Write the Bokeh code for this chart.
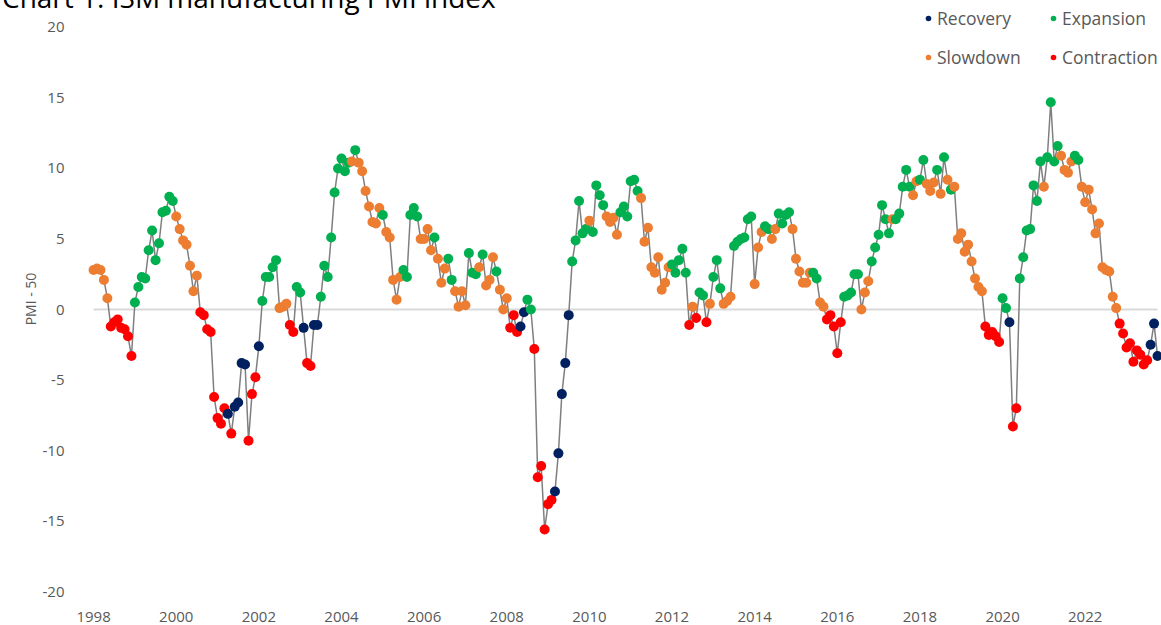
from bokeh.plotting import figure
from bokeh.models import (ColumnDataSource, FixedTicker, Legend, LegendItem,
                          Range1d, Div)
from bokeh.layouts import column
from bokeh.embed import file_html
from bokeh.resources import INLINE

# ---------------- data (monthly, Jan 1998 .. Oct 2023) ----------------
start_year = 1998

pmi_minus_50 = [
    2.8, 2.9, 2.8, 2.1, 0.8, -1.2, -0.9, -0.7, -1.3, -1.4, -1.9, -3.3,      # 1998
    0.5, 1.6, 2.3, 2.2, 4.2, 5.6, 3.5, 4.7, 6.9, 7.0, 8.0, 7.7,             # 1999
    6.6, 5.7, 4.9, 4.6, 3.1, 1.3, 2.4, -0.2, -0.4, -1.4, -1.6, -6.2,        # 2000
    -7.7, -8.1, -7.0, -7.4, -8.8, -6.9, -6.6, -3.8, -3.9, -9.3, -6.0, -4.8, # 2001
    -2.6, 0.6, 2.3, 2.3, 3.0, 3.5, 0.1, 0.2, 0.4, -1.1, -1.6, 1.6,          # 2002
    1.2, -1.3, -3.8, -4.0, -1.1, -1.1, 0.9, 3.1, 2.3, 5.1, 8.3, 10.0,       # 2003
    10.7, 9.8, 10.4, 10.5, 11.3, 10.4, 9.8, 8.4, 7.3, 6.2, 6.1, 7.2,        # 2004
    6.7, 5.5, 5.1, 2.1, 0.7, 2.3, 2.8, 2.3, 6.7, 7.2, 6.6, 5.0,             # 2005
    5.0, 5.7, 4.2, 5.1, 3.6, 1.9, 2.9, 3.6, 2.1, 1.3, 0.2, 1.3,             # 2006
    0.3, 4.0, 2.6, 2.5, 3.0, 3.9, 1.7, 2.1, 3.7, 2.7, 1.4, 0.0,             # 2007
    0.8, -1.3, -0.4, -1.6, -1.2, -0.2, 0.7, 0.0, -2.8, -11.9, -11.1, -15.6, # 2008
    -13.8, -13.5, -12.9, -10.2, -6.0, -3.8, -0.4, 3.4, 4.9, 7.7, 5.4, 5.7,  # 2009
    6.3, 5.5, 8.8, 8.1, 7.4, 6.6, 6.2, 6.5, 5.3, 6.9, 7.3, 6.6,             # 2010
    9.1, 9.2, 8.4, 7.9, 4.8, 5.8, 3.0, 2.6, 3.7, 1.4, 1.9, 3.0,             # 2011
    3.2, 2.6, 3.5, 4.3, 2.6, -1.1, 0.2, -0.6, 1.2, 1.0, -0.9, 0.4,          # 2012
    2.3, 3.5, 1.5, 0.4, 0.6, 0.9, 4.5, 4.8, 5.0, 5.1, 6.4, 6.6,             # 2013
    1.8, 4.4, 5.5, 5.9, 5.7, 5.0, 5.7, 6.8, 6.1, 6.7, 6.9, 5.7,             # 2014
    3.6, 2.7, 1.9, 1.9, 2.6, 2.6, 2.2, 0.5, 0.2, -0.7, -0.4, -1.2,          # 2015
    -3.1, -0.9, 0.9, 1.0, 1.2, 2.5, 2.5, 0.0, 1.2, 2.0, 3.4, 4.4,           # 2016
    5.3, 7.4, 6.4, 5.4, 6.4, 6.4, 6.8, 8.7, 9.9, 8.7, 8.1, 9.1,             # 2017
    9.2, 10.6, 8.9, 8.4, 9.0, 9.9, 8.2, 10.8, 9.2, 8.5, 8.7, 5.0,           # 2018
    5.4, 4.1, 4.6, 3.4, 2.2, 1.6, 1.3, -1.2, -1.8, -1.6, -1.9, -2.3,        # 2019
    0.8, 0.1, -0.9, -8.3, -7.0, 2.2, 3.7, 5.6, 5.7, 8.8, 7.7, 10.5,         # 2020
    8.7, 10.8, 14.7, 10.5, 11.6, 10.9, 9.9, 9.7, 10.5, 10.9, 10.6, 8.7,     # 2021
    7.6, 8.5, 7.1, 5.4, 6.1, 3.0, 2.8, 2.7, 0.9, 0.1, -1.0, -1.7,           # 2022
    -2.7, -2.4, -3.7, -2.9, -3.2, -3.9, -3.6, -2.5, -1.0, -3.3,             # 2023
]

# R = Recovery, E = Expansion, S = Slowdown, C = Contraction
phase_codes = list(
    "SSSSSCCCCCCC"  # 1998
    "EEEEEEEEEEEE"  # 1999
    "SSSSSSSCCCCC"  # 2000
    "CCCRCRRRRCCC"  # 2001
    "REEEEESSSCCE"  # 2002
    "ERCCRREEEEEE"  # 2003
    "EEESESSSSSSS"  # 2004
    "ESSSSSEEEEES"  # 2005
    "SSSESSSEESSS"  # 2006
    "SEEESESSSESS"  # 2007
    "SCCCRREECCCC"  # 2008
    "CCRRRRREEEEE"  # 2009
    "SEEEESSSSEEE"  # 2010
    "EEESSSSSSSSS"  # 2011
    "EEEEECSCEECS"  # 2012
    "EEESSSEEEEEE"  # 2013
    "SSSEESSEEEES"  # 2014
    "SSSSSEESSCCC"  # 2015
    "CCEEEEESSSEE"  # 2016
    "EEEESEEEEESS"  # 2017
    "EESSSESESESS"  # 2018
    "SSSSSSSCCCCC"  # 2019
    "EERCCEEEEEEE"  # 2020
    "SEEEESSSSEES"  # 2021
    "SSSSSSSSSSCC"  # 2022
    "CCCCCCCRRR"    # 2023
)

phase_keys = ["R", "E", "S", "C"]
phase_names = ["Recovery", "Expansion", "Slowdown", "Contraction"]
phase_colors = ["#002060", "#00B050", "#ED7D31", "#FF0000"]

tick_years = list(range(1998, 2023, 2))
y_ticks = [-20, -15, -10, -5, 0, 5, 10, 15, 20]

title_text = "Chart 1: ISM manufacturing PMI index"
y_label = "PMI - 50"

# ---------------- build ----------------
n = len(pmi_minus_50)
month_index = list(range(n))
color_of = dict(zip(phase_keys, phase_colors))
name_of = dict(zip(phase_keys, phase_names))

src = ColumnDataSource(dict(
    x=month_index,
    y=pmi_minus_50,
    color=[color_of[c] for c in phase_codes],
    phase=[name_of[c] for c in phase_codes],
))

FONT = "Open Sans"
GREY = "#595959"

p = figure(width=1161, height=624, output_backend="svg", toolbar_location=None,
           x_range=Range1d(-3.8, 310.16), y_range=Range1d(-20.35, 21.84),
           min_border_left=80, min_border_right=0, min_border_top=0,
           min_border_bottom=29)
p.outline_line_color = None
p.background_fill_color = None
p.border_fill_color = None
p.xgrid.visible = False
p.ygrid.visible = False

# zero line
p.line([month_index[0], month_index[-1]], [0, 0], line_color="#D9D9D9", line_width=2)

# series line and coloured points
p.line("x", "y", source=src, line_color="#7F7F7F", line_width=1.5)
pts = p.scatter("x", "y", source=src, size=10, fill_color="color",
                line_color=None)

# axes
p.xaxis.ticker = FixedTicker(ticks=[(y - start_year) * 12 for y in tick_years])
p.xaxis.major_label_overrides = {(y - start_year) * 12: str(y) for y in tick_years}
p.yaxis.ticker = FixedTicker(ticks=y_ticks)
p.yaxis.major_label_overrides = {t: str(t) for t in y_ticks}
for ax in (p.xaxis, p.yaxis):
    ax.axis_line_color = None
    ax.major_tick_line_color = None
    ax.minor_tick_line_color = None
    ax.major_label_text_font = FONT
    ax.major_label_text_font_size = "15px"
    ax.major_label_text_color = GREY
p.xaxis.major_label_standoff = 9
p.yaxis.major_label_standoff = 10
p.yaxis.axis_label = y_label
p.yaxis.axis_label_text_font = FONT
p.yaxis.axis_label_text_font_size = "14px"
p.yaxis.axis_label_text_font_style = "normal"
p.yaxis.axis_label_text_color = GREY
p.yaxis.axis_label_standoff = 0

# legend (two rows, two columns)
items = []
for key, name in zip(phase_keys, phase_names):
    items.append(LegendItem(label=name, renderers=[pts], index=phase_codes.index(key)))
legend = Legend(items=items, location=(841, 527), orientation="horizontal", nrows=2,
                label_text_font=FONT, label_text_font_size="17.5px",
                label_text_color=GREY, glyph_width=14, glyph_height=20,
                label_standoff=2, label_width=94, spacing=15, padding=2, margin=0,
                background_fill_alpha=0, border_line_color=None)
p.add_layout(legend)

# title, cut off at the very top of the page as in the original
title = Div(
    text=('<div style="position:relative;top:-17px;left:2px;white-space:nowrap;'
          'font-family:\'Open Sans\';font-size:28px;line-height:28px;color:#000000;">'
          + title_text + '</div>'),
    width=1161, height=1, margin=0, styles={"overflow": "visible"},
)

layout = column(title, p, spacing=0)

open("out.html", "w").write(file_html(layout, INLINE))
